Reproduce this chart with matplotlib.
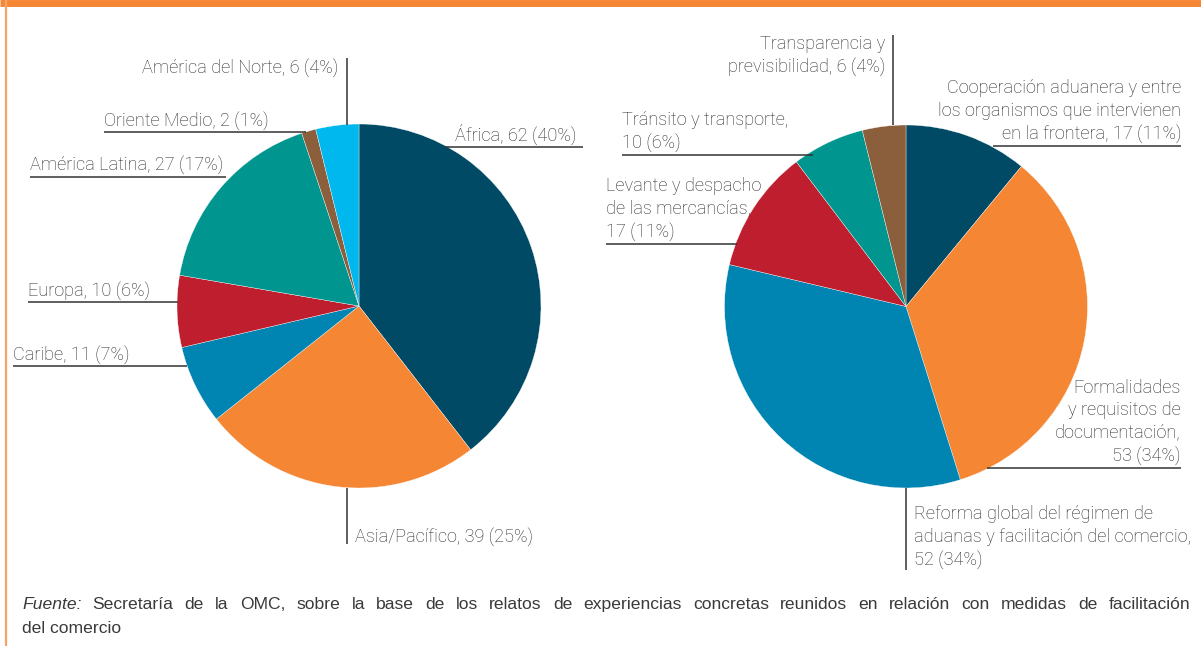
import matplotlib
matplotlib.use("Agg")
import matplotlib.pyplot as plt
from matplotlib import font_manager

W, H = 1201, 646

# Casos por región
regiones = ["África", "Asia/Pacífico", "Caribe", "Europa", "América Latina",
            "Oriente Medio", "América del Norte"]
casos_region = [62, 39, 11, 10, 27, 2, 6]
pct_region = [40, 25, 7, 6, 17, 1, 4]

# Casos por ámbito de facilitación
ambitos = ["Cooperación aduanera y entre\nlos organismos que intervienen\nen la frontera",
           "Formalidades\ny requisitos de\ndocumentación,\n",
           "Reforma global del régimen de\naduanas y facilitación del comercio,\n",
           "Levante y despacho\nde las mercancías,\n",
           "Tránsito y transporte,\n",
           "Transparencia y\nprevisibilidad"]
casos_ambito = [17, 53, 52, 17, 10, 6]
pct_ambito = [11, 34, 34, 11, 6, 4]

colores = ["#004a66", "#f58634", "#0085b3", "#be1e2d", "#00968f", "#8b5e3c", "#00b8ee"]
colores_ambito = ["#004a66", "#f58634", "#0085b3", "#be1e2d", "#00968f", "#8b5e3c"]

TXT = "#2a2a2a"
nombres = {f.name for f in font_manager.fontManager.ttflist}
FONT = "Roboto" if "Roboto" in nombres else "Liberation Sans"
FOOT = "Liberation Sans"
FS = 13.1


def etiqueta(nombre, valor, pct):
    sep = "" if nombre.endswith("\n") else ", "
    return f"{nombre}{sep}{valor} ({pct}%)"


fig = plt.figure(figsize=(W / 100, H / 100), dpi=100)
ax = fig.add_axes([0, 0, 1, 1])

wp = dict(linewidth=0.25, edgecolor="white")
ax.pie(casos_region, colors=colores, startangle=-90, counterclock=True,
       center=(359, 306), radius=182, wedgeprops=wp)
ax.pie(casos_ambito, colors=colores_ambito, startangle=-90, counterclock=True,
       center=(906, 306.5), radius=181.5, wedgeprops=wp)

ax.set_xlim(0, W)
ax.set_ylim(H, 0)
ax.set_aspect("auto")
ax.axis("off")

lines_kw = dict(color="#333333", linewidth=1.1, solid_capstyle="butt")
txt_kw = dict(fontsize=FS, color=TXT, family=FONT, fontweight="light", linespacing=1.32)

# Gráfico de la izquierda: etiquetas y líneas guía
ax.text(455, 141, etiqueta(regiones[0], casos_region[0], pct_region[0]), ha="left", va="baseline", **txt_kw)
ax.plot([445, 583], [147, 147], **lines_kw)

ax.text(355, 542, etiqueta(regiones[1], casos_region[1], pct_region[1]), ha="left", va="baseline", **txt_kw)
ax.plot([347, 347], [488, 544], **lines_kw)

ax.text(13, 360, etiqueta(regiones[2], casos_region[2], pct_region[2]), ha="left", va="baseline", **txt_kw)
ax.plot([13, 187], [366, 366], **lines_kw)

ax.text(28, 296, etiqueta(regiones[3], casos_region[3], pct_region[3]), ha="left", va="baseline", **txt_kw)
ax.plot([28, 178], [302, 302], **lines_kw)

ax.text(30, 170, etiqueta(regiones[4], casos_region[4], pct_region[4]), ha="left", va="baseline", **txt_kw)
ax.plot([30, 226], [177, 177], **lines_kw)

ax.text(104, 126, etiqueta(regiones[5], casos_region[5], pct_region[5]), ha="left", va="baseline", **txt_kw)
ax.plot([104, 306], [132, 132], **lines_kw)

ax.text(338, 73, etiqueta(regiones[6], casos_region[6], pct_region[6]), ha="right", va="baseline", **txt_kw)
ax.plot([347, 347], [58, 125], **lines_kw)

# Gráfico de la derecha
ax.text(1181, 139, etiqueta(ambitos[0], casos_ambito[0], pct_ambito[0]), ha="right", va="baseline",
        multialignment="right", **txt_kw)
ax.plot([993, 1181], [146, 146], **lines_kw)

ax.text(1181, 461, etiqueta(ambitos[1], casos_ambito[1], pct_ambito[1]), ha="right", va="baseline",
        multialignment="right", **txt_kw)
ax.plot([987, 1181], [468, 468], **lines_kw)

ax.text(914, 565, etiqueta(ambitos[2], casos_ambito[2], pct_ambito[2]), ha="left", va="baseline",
        multialignment="left", **txt_kw)
ax.plot([906, 906], [488, 570], **lines_kw)

ax.text(606, 237, etiqueta(ambitos[3], casos_ambito[3], pct_ambito[3]), ha="left", va="baseline",
        multialignment="left", **txt_kw)
ax.plot([606, 737], [244, 244], **lines_kw)

ax.text(622, 148, etiqueta(ambitos[4], casos_ambito[4], pct_ambito[4]), ha="left", va="baseline",
        multialignment="left", **txt_kw)
ax.plot([622, 813], [155, 155], **lines_kw)

ax.text(885, 72, etiqueta(ambitos[5], casos_ambito[5], pct_ambito[5]), ha="right", va="baseline",
        multialignment="right", **txt_kw)
ax.plot([893, 893], [35, 125], **lines_kw)

# Marco naranja
ax.plot([0, W], [2.5, 2.5], color="#f58634", linewidth=5, solid_capstyle="butt")
ax.plot([6, 6], [0, H], color="#f7a26a", linewidth=1.6, solid_capstyle="butt")

# Fuente, primera línea justificada
fuente = ("Fuente: Secretaría de la OMC, sobre la base de los relatos de experiencias "
          "concretas reunidos en relación con medidas de facilitación").split()
foot_kw = dict(fontsize=12.6, color="#3a3a3a", family=FOOT, va="baseline", ha="left")
renderer = fig.canvas.get_renderer()
palabras = []
for i, p in enumerate(fuente):
    t = ax.text(0, 609, p, style="italic" if i == 0 else "normal", **foot_kw)
    palabras.append(t)
anchos = [t.get_window_extent(renderer).width for t in palabras]
x0, x1 = 22, 1190
hueco = (x1 - x0 - sum(anchos)) / (len(palabras) - 1)
x = x0
for t, w in zip(palabras, anchos):
    t.set_x(x)
    x += w + hueco
ax.text(22, 633, "del comercio", **foot_kw)

fig.savefig("out.png", dpi=100, facecolor="white")
